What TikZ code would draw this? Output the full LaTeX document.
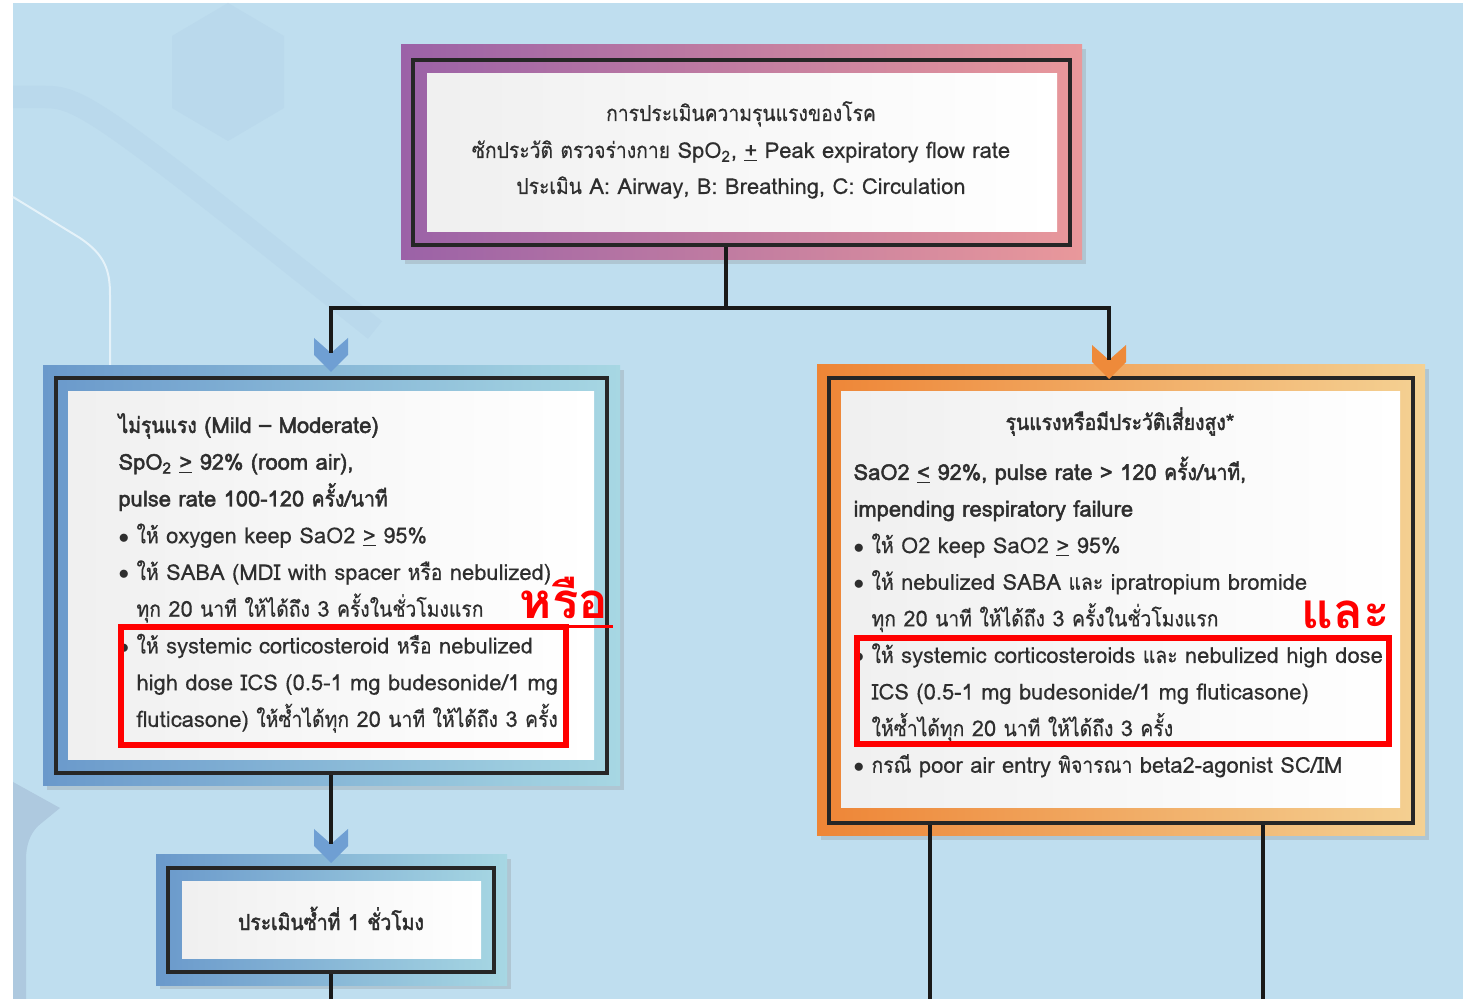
\documentclass[tikz,border=0pt]{standalone}
\usepackage{fontspec}
\setmainfont{Loma}[Script=Thai, FakeBold=0.3]
\newfontfamily\thaibody{Loma}[Script=Thai, FakeBold=0.3, FakeStretch=0.88]
\newfontfamily\headfont{Loma}[Script=Thai, FakeBold=2]
\newfontfamily\headthai{Loma}[Script=Thai, FakeBold=2, FakeStretch=0.88]
\newfontfamily\alertfont{Loma Bold}[Script=Thai]
\usetikzlibrary{fit, shadows}

% Thai letters are set a little narrower than the Latin ones
\newXeTeXintercharclass\thaiclass
\newcount\thaich
\thaich="0E00
\loop
    \XeTeXcharclass\thaich=\thaiclass
    \ifnum\thaich<"0E7F \advance\thaich by 1 \repeat
\let\thaisel\thaibody
\XeTeXinterchartoks 0 \thaiclass = {\begingroup\thaisel}
\XeTeXinterchartoks 4095 \thaiclass = {\begingroup\thaisel}
\XeTeXinterchartoks \thaiclass 0 = {\endgroup}
\XeTeXinterchartoks \thaiclass 4095 = {\endgroup}
\XeTeXinterchartokenstate=1

\definecolor{bgblue}{HTML}{BFDEEF}
\definecolor{bgdeco}{HTML}{BAD9EC}
\definecolor{bgcorner}{HTML}{AEC9DF}
\definecolor{purpleL}{HTML}{9B62A7}
\definecolor{pinkR}{HTML}{E9989B}
\definecolor{blueL}{HTML}{6A99CB}
\definecolor{cyanR}{HTML}{A7D7E3}
\definecolor{orangeL}{HTML}{EE8536}
\definecolor{sandR}{HTML}{F4D193}
\definecolor{chevblue}{HTML}{6F9FD3}
\definecolor{chevorange}{HTML}{EE8A3A}
\definecolor{inktext}{HTML}{2E2E2E}

\newcommand{\bul}{\makebox[0.36cm][l]{$\bullet$}}
\newcommand{\ind}{\hspace*{0.36cm}}
\newcommand{\hd}{\headfont\let\thaisel\headthai}
\newcommand{\bigred}{\let\thaisel\alertfont\alertfont}

\begin{document}
\begin{tikzpicture}[x=0.02cm, y=-0.02cm, semithick]
    \tikzset{
        outer/.style={drop shadow={shadow xshift=2pt, shadow yshift=-2.5pt, opacity=0.25}},
        frame/.style={draw=black!85, line width=0.08cm, inner sep=0pt},
        inner/.style={left color=black!6, right color=white},
        line/.style={anchor=base west, inner sep=0pt, text=inktext,
            font=\fontsize{12.5}{15}\selectfont},
        alert/.style={draw=red, line width=0.13cm},
        redword/.style={inner sep=0pt, text=red, font=\fontsize{28}{30}\selectfont\bigred},
        link/.style={draw=black!90, line width=0.075cm}
    };
    % Background
    \useasboundingbox (0, 0) rectangle (1468, 999);
    \fill[white] (0, 0) rectangle (1468, 999);
    \fill[bgblue] (13, 3) rectangle (1463, 999);
    \fill[bgdeco] (228, 3) -- (284, 36) -- (284, 108) -- (228, 141) -- (172, 108) -- (172, 36) -- cycle;
    \draw[bgdeco, line width=0.45cm] (13, 97) -- (45, 97) .. controls (80, 97) and (100, 110) .. (375, 330);
    \draw[white!60!bgblue, line width=0.04cm] (13, 197) -- (80, 238) .. controls (105, 255) and (110, 270) .. (110, 295) -- (110, 366);
    \fill[bgcorner] (13, 782) -- (60, 808) -- (38, 826) .. controls (30, 834) and (26, 845) .. (26, 860) -- (26, 999) -- (13, 999) -- cycle;

    % Assessment
    \path[outer, left color=purpleL, right color=pinkR] (401, 45) rectangle (1082, 260);
    \node[frame, fit={(413, 60) (1070, 245)}] (assessbox) {};
    \path[inner] (427, 74) rectangle (1057, 232);
    \node[line, anchor=base] (assess1) at (741, 121) {การประเมินความรุนแรงของโรค};
    \node[line, anchor=base] (assess2) at (741, 158) {ซักประวัติ ตรวจร่างกาย SpO\textsubscript{2}, \underline{+} Peak expiratory flow rate};
    \node[line, anchor=base] (assess3) at (741, 194) {ประเมิน A: Airway, B: Breathing, C: Circulation};

    % Mild - moderate
    \path[outer, left color=blueL, right color=cyanR] (43, 366) rectangle (620, 786);
    \node[frame, fit={(56, 378) (607, 773)}] (mildbox) {};
    \path[inner] (68, 392) rectangle (594, 760);
    \foreach \t [count=\i] in {
        {\hd ไม่รุนแรง (Mild – Moderate)},
        {\hd SpO\textsubscript{2} \underline{>} 92\% (room air),},
        {\hd pulse rate 100-120 ครั้ง/นาที},
        {\bul ให้ oxygen keep SaO2 \underline{>} 95\%},
        {\bul ให้ SABA (MDI with spacer หรือ nebulized)},
        {\ind ทุก 20 นาที ให้ได้ถึง 3 ครั้งในชั่วโมงแรก},
        {\bul ให้ systemic corticosteroid หรือ nebulized},
        {\ind high dose ICS (0.5-1 mg budesonide/1 mg},
        {\ind fluticasone) ให้ซ้ำได้ทุก 20 นาที ให้ได้ถึง 3 ครั้ง}}{
        \node[line] (mild\i) at (118, 396.25+36.75*\i) {\t};
    }
    \draw[alert] (121, 627) rectangle (566, 745);
    \node[redword, anchor=base] (orword) at (564, 619) {หรือ};
    \draw[red, line width=0.06cm] (orword.base west) ++(-2, 8) -- ++(96, 0);

    % Severe
    \path[outer, left color=orangeL, right color=sandR] (817, 365) rectangle (1425, 836);
    \node[frame, fit={(829, 378) (1413, 823)}] (severebox) {};
    \path[inner] (841, 392) rectangle (1400, 808);
    \node[line, anchor=base] (severetitle) at (1120, 430) {\hd รุนแรงหรือมีประวัติเสี่ยงสูง*};
    \foreach \t [count=\i] in {
        {\hd SaO2 \underline{<} 92\%, pulse rate > 120 ครั้ง/นาที,},
        {\hd impending respiratory failure},
        {\bul ให้ O2 keep SaO2 \underline{>} 95\%},
        {\bul ให้ nebulized SABA และ ipratropium bromide},
        {\ind ทุก 20 นาที ให้ได้ถึง 3 ครั้งในชั่วโมงแรก},
        {\bul ให้ systemic corticosteroids และ nebulized high dose},
        {\ind ICS (0.5-1 mg budesonide/1 mg fluticasone)},
        {\ind ให้ซ้ำได้ทุก 20 นาที ให้ได้ถึง 3 ครั้ง},
        {\bul กรณี poor air entry พิจารณา beta2-agonist SC/IM}}{
        \node[line] (severe\i) at (853, 443.4+36.6*\i) {\t};
    }
    \draw[alert] (857, 638) rectangle (1389, 744);
    \node[redword, anchor=base] (andword) at (1346, 629) {และ};

    % Reassess
    \path[outer, left color=blueL, right color=cyanR] (156, 855) rectangle (507, 985);
    \node[frame, fit={(168, 868) (494, 972)}] (reassessbox) {};
    \path[inner] (182, 882) rectangle (481, 958);
    \node[line, anchor=base] (reassess) at (331, 930) {\hd ประเมินซ้ำที่ 1 ชั่วโมง};

    % Chevrons and connectors
    \foreach \cx/\cy/\cc in {331/372/chevblue, 1109/379/chevorange, 331/863/chevblue}{
        \fill[\cc] (\cx-17, \cy-34) -- (\cx, \cy-19) -- (\cx+17, \cy-34) -- (\cx+17, \cy-17)
            -- (\cx, \cy) -- (\cx-17, \cy-17) -- cycle;
    }
    \coordinate (split) at (726, 308);
    \coordinate (mildin) at (331, 353);
    \coordinate (severein) at (1109, 360);
    \coordinate (reassessin) at (331, 844);
    \coordinate (leftend) at (331, 999);
    \coordinate (poorend) at (930, 999);
    \coordinate (goodend) at (1263, 999);
    \draw[link] (assessbox.south -| split) -- (split);
    \draw[link] (split) -| (mildin);
    \draw[link] (split) -| (severein);
    \draw[link] (mildbox.south -| reassessin) -- (reassessin);
    \draw[link] (reassessbox.south -| leftend) -- (leftend);
    \draw[link] (severebox.south -| poorend) -- (poorend);
    \draw[link] (severebox.south -| goodend) -- (goodend);
\end{tikzpicture}
\end{document}
